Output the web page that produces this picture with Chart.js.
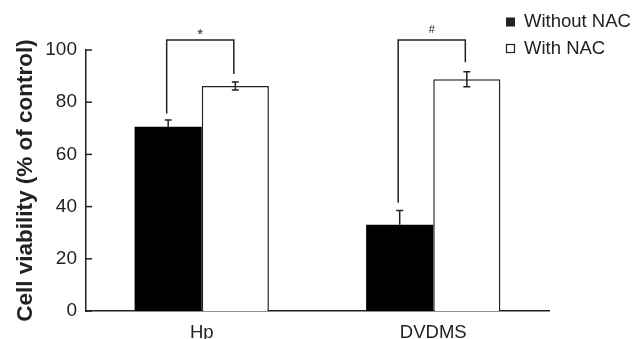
<!DOCTYPE html>
<html lang="en">
<head>
  <meta charset="UTF-8" />
  <title>Cell viability with and without NAC</title>
  <script src="https://cdn.jsdelivr.net/npm/chart.js"></script>
  <style>
    body {
      margin: 0;
      padding: 0;
      background: #ffffff;
    }
    canvas {
      display: block;
    }
  </style>
</head>
<body>

<canvas id="viabilityChart" width="634" height="339"></canvas>

<script>
  // Data
  const categories = ['Hp', 'DVDMS'];
  const withoutNAC = [70.6, 33.0];
  const withNAC = [86.2, 88.8];
  const withoutNACErr = [2.6, 5.5];
  const withNACErr = [1.5, 2.9];
  const yTicks = [0, 20, 40, 60, 80, 100];

  // significance brackets: bottom of left leg, bottom of right leg, top, mark
  const bracketLeft = [75.7, 41.5];
  const bracketRight = [90.8, 95.3];
  const bracketTop = [103.8, 103.8];
  const bracketMarks = ['*', '#'];

  const ink = '#222';
  const fontFamily = "'Liberation Sans', Arial, sans-serif";

  // error bars, brackets, inward ticks and legend
  const extrasPlugin = {
    id: 'extras',
    afterDatasetsDraw(chart) {
      const ctx = chart.ctx;
      const y = chart.scales.y;
      const area = chart.chartArea;
      const errs = [withoutNACErr, withNACErr];

      ctx.save();
      ctx.strokeStyle = ink;
      ctx.lineWidth = 1.5;

      // error bars (only the upper half shows on the black bars)
      chart.data.datasets.forEach((ds, i) => {
        const meta = chart.getDatasetMeta(i);
        meta.data.forEach((bar, j) => {
          const v = ds.data[j];
          const e = errs[i][j];
          const yt = y.getPixelForValue(v + e);
          const yb = y.getPixelForValue(i === 0 ? v : v - e);
          ctx.beginPath();
          ctx.moveTo(bar.x, yt);
          ctx.lineTo(bar.x, yb);
          ctx.moveTo(bar.x - 3.5, yt);
          ctx.lineTo(bar.x + 3.5, yt);
          if (i !== 0) {
            ctx.moveTo(bar.x - 3.5, yb);
            ctx.lineTo(bar.x + 3.5, yb);
          }
          ctx.stroke();
        });
      });

      // brackets
      const m0 = chart.getDatasetMeta(0);
      const m1 = chart.getDatasetMeta(1);
      categories.forEach((c, j) => {
        const x1 = m0.data[j].x - 1.5;
        const x2 = m1.data[j].x - 1.5;
        const top = y.getPixelForValue(bracketTop[j]);
        ctx.beginPath();
        ctx.moveTo(x1, y.getPixelForValue(bracketLeft[j]));
        ctx.lineTo(x1, top);
        ctx.lineTo(x2, top);
        ctx.lineTo(x2, y.getPixelForValue(bracketRight[j]));
        ctx.stroke();

        ctx.fillStyle = ink;
        ctx.textAlign = 'center';
        ctx.textBaseline = 'bottom';
        ctx.font = bracketMarks[j] === '*' ? '15px ' + fontFamily : '11px ' + fontFamily;
        ctx.fillText(bracketMarks[j], (x1 + x2) / 2, top + (bracketMarks[j] === '*' ? 2 : -5));
      });

      // inward y ticks
      yTicks.forEach(t => {
        const py = y.getPixelForValue(t);
        ctx.beginPath();
        ctx.moveTo(area.left, py);
        ctx.lineTo(area.left + 6, py);
        ctx.stroke();
      });

      // legend
      ctx.font = '18.5px ' + fontFamily;
      ctx.textAlign = 'left';
      ctx.textBaseline = 'middle';
      const lx = area.right - 43;
      chart.data.datasets.forEach((ds, i) => {
        const ly = 22 + i * 26.5;
        ctx.lineWidth = 1.2;
        if (i === 0) {
          ctx.fillStyle = ink;
          ctx.fillRect(lx, ly - 4.5, 9, 9);
        } else {
          ctx.strokeRect(lx + 0.5, ly - 4, 8, 8);
        }
        ctx.fillStyle = ink;
        ctx.fillText(ds.label, lx + 18, ly);
      });

      ctx.restore();
    }
  };

  new Chart(document.getElementById('viabilityChart'), {
    type: 'bar',
    data: {
      labels: categories,
      datasets: [
        {
          label: 'Without NAC',
          data: withoutNAC,
          backgroundColor: '#000000',
          borderColor: '#000000',
          borderWidth: 0
        },
        {
          label: 'With NAC',
          data: withNAC,
          backgroundColor: '#ffffff',
          borderColor: ink,
          borderWidth: 1.5,
          borderSkipped: 'bottom'
        }
      ]
    },
    options: {
      responsive: false,
      animation: false,
      categoryPercentage: 0.58,
      barPercentage: 1.0,
      layout: {
        padding: { top: 50, right: 85, bottom: 0, left: 0 }
      },
      plugins: {
        legend: { display: false },
        tooltip: { enabled: false }
      },
      scales: {
        x: {
          afterFit(scale) { scale.height = 28; },
          grid: { display: false, drawTicks: false },
          border: { display: true, color: ink, width: 1.5 },
          ticks: {
            color: ink,
            padding: 11,
            font: { family: fontFamily, size: 18.5 }
          }
        },
        y: {
          min: 0,
          max: 100,
          afterFit(scale) { scale.width = 86; },
          afterBuildTicks(scale) {
            scale.ticks = yTicks.map(v => ({ value: v }));
          },
          grid: { display: false, drawTicks: false },
          border: { display: true, color: ink, width: 1.5 },
          ticks: {
            color: ink,
            padding: 9,
            font: { family: fontFamily, size: 19 }
          },
          title: {
            display: true,
            text: 'Cell viability (% of control)',
            color: ink,
            padding: { top: 12, bottom: 0 },
            font: { family: fontFamily, size: 22.5, weight: 'bold' }
          }
        }
      }
    },
    plugins: [extrasPlugin]
  });
</script>

</body>
</html>
